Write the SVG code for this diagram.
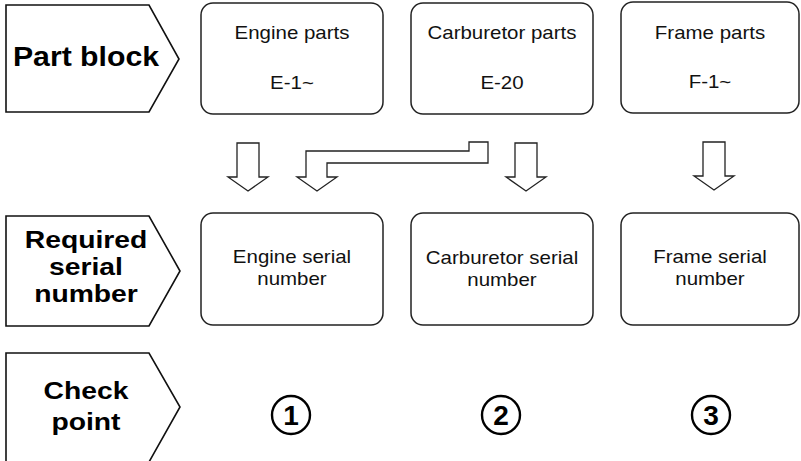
<svg xmlns="http://www.w3.org/2000/svg" width="801" height="461" viewBox="0 0 801 461">
<style>
.lbl{fill:#fff;stroke:#111;stroke-width:1.6}
.box{fill:#fff;stroke:#222;stroke-width:1.5}
.arr{fill:#fff;stroke:#222;stroke-width:1.3;stroke-linejoin:miter}
.t{font-family:"Liberation Sans",Arial,sans-serif;font-size:17.5px;fill:#111;text-anchor:middle}
.b{font-family:"Liberation Sans",Arial,sans-serif;font-weight:bold;font-size:23px;fill:#000;text-anchor:middle}
.c{fill:#fff;stroke:#000;stroke-width:2.4}
.n{font-family:"Liberation Sans",Arial,sans-serif;font-weight:bold;font-size:28px;fill:#000;text-anchor:middle}
</style>
<rect width="801" height="461" fill="#fff"/>
<g id="label-part-block">
<polygon class="lbl" points="6,5 149,5 179,59 149,112 6,112"/>
<text class="b" transform="translate(86,66) scale(1.12,1)" style="font-size:27px">Part block</text>
</g>
<g id="label-required">
<polygon class="lbl" points="6,216 149,216 180,271 149,326 6,326"/>
<text class="b" transform="translate(86,248) scale(1.23,1)">Required</text>
<text class="b" transform="translate(86,275) scale(1.23,1)">serial</text>
<text class="b" transform="translate(86,302) scale(1.23,1)">number</text>
</g>
<g id="label-check">
<polygon class="lbl" points="6,353 149,353 180,407 149,462 6,462"/>
<text class="b" transform="translate(86,399) scale(1.23,1)">Check</text>
<text class="b" transform="translate(86,430) scale(1.23,1)">point</text>
</g>
<g id="engine-parts">
<rect class="box" x="201" y="3" width="182" height="111" rx="12"/>
<text class="t" transform="translate(292,39) scale(1.17,1)">Engine parts</text>
<text class="t" transform="translate(292,89) scale(1.17,1)">E-1~</text>
</g>
<g id="carburetor-parts">
<rect class="box" x="411" y="3" width="182" height="111" rx="12"/>
<text class="t" transform="translate(502,39) scale(1.17,1)">Carburetor parts</text>
<text class="t" transform="translate(502,89) scale(1.17,1)">E-20</text>
</g>
<g id="frame-parts">
<rect class="box" x="621" y="2" width="178" height="111" rx="12"/>
<text class="t" transform="translate(710,39) scale(1.17,1)">Frame parts</text>
<text class="t" transform="translate(710,88) scale(1.17,1)">F-1~</text>
</g>
<g id="engine-serial">
<rect class="box" x="201" y="213" width="182" height="112" rx="12"/>
<text class="t" transform="translate(292,263) scale(1.17,1)">Engine serial</text>
<text class="t" transform="translate(292,285) scale(1.17,1)">number</text>
</g>
<g id="carburetor-serial">
<rect class="box" x="411" y="213" width="182" height="112" rx="12"/>
<text class="t" transform="translate(502,264) scale(1.17,1)">Carburetor serial</text>
<text class="t" transform="translate(502,286) scale(1.17,1)">number</text>
</g>
<g id="frame-serial">
<rect class="box" x="621" y="213" width="178" height="112" rx="12"/>
<text class="t" transform="translate(710,263) scale(1.17,1)">Frame serial</text>
<text class="t" transform="translate(710,285) scale(1.17,1)">number</text>
</g>
<g id="check-1">
<circle class="c" cx="291" cy="415" r="19"/>
<text class="n" x="291" y="425">1</text>
</g>
<g id="check-2">
<circle class="c" cx="501" cy="415" r="19"/>
<text class="n" x="501" y="425">2</text>
</g>
<g id="check-3">
<circle class="c" cx="711" cy="415" r="19"/>
<text class="n" x="711" y="425">3</text>
</g>
<g id="connectors">
<polygon class="arr" points="237,143 259,143 259,177 268,177 248,191 228,177 237,177"/>
<polygon class="arr" points="469,142 488,142 488,163 327,163 327,177 337,177 317,191 297,177 306,177 306,151 469,151"/>
<polygon class="arr" points="515,143 537,143 537,177 546,177 526,191 506,177 515,177"/>
<polygon class="arr" points="703,142 725,142 725,176 734,176 714,190 694,176 703,176"/>
</g>
</svg>
